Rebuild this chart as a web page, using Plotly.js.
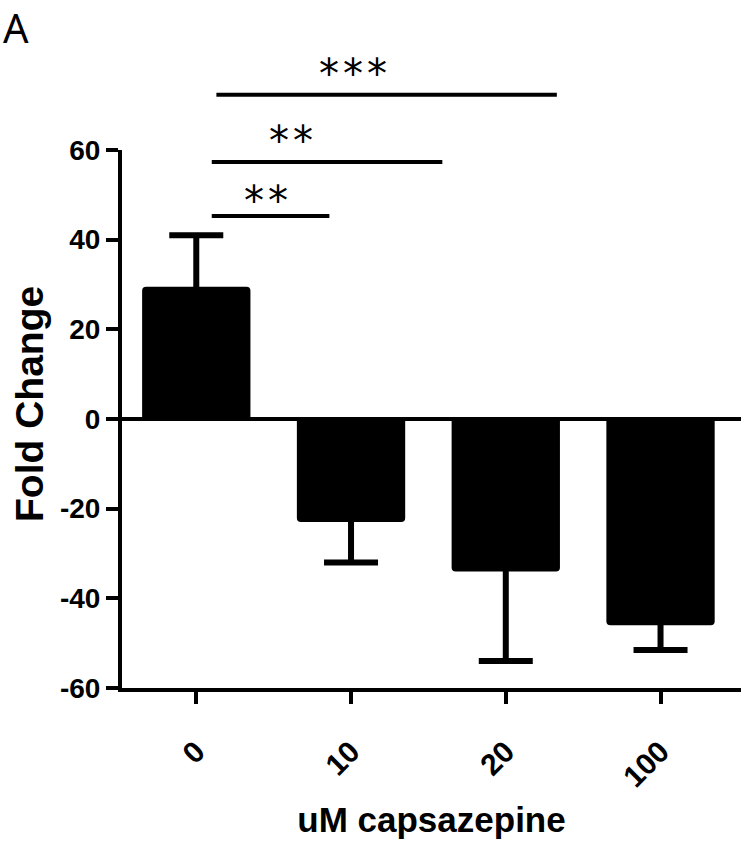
<!DOCTYPE html>
<html><head><meta charset="utf-8">
<script src="https://cdn.plot.ly/plotly-3.0.1.min.js"></script>
<style>html,body{margin:0;padding:0;background:#fff}</style>
</head><body><div id="chart" style="width:741px;height:848px"></div>
<script>
// ---- data ----
const categories = ['0', '10', '20', '100'];
const foldChange = [29.5, -23, -34, -46];
const semValues = [11.5, 9, 20, 5.5];
const yTickValues = [-60, -40, -20, 0, 20, 40, 60];
const yTickText = ['-60', '-40', '-20', '0', '20', '40', '60'];
const yRange = [-60, 60];
// significance brackets (category index units / y data units)
const sigFrom = [0.10, 0.10, 0.13];
const sigTo = [0.86, 1.59, 2.33];
const sigLevel = [45.3, 57.3, 72.3];
const sigLabels = ['*\u200A*', '*\u200A*', '*\u200A*\u200A*'];
const sigLabelX = [0.45, 0.61, 1.01];
const sigLabelY = [50.2, 63.6, 78.5];

const M = {l: 122, r: 0, t: 150, b: 160};
const W = 741, H = 848;
const plotW = W - M.l - M.r, plotH = H - M.t - M.b;
const toPaper = v => (v - yRange[0]) / (yRange[1] - yRange[0]);
const sans = 'Liberation Sans, Arial, sans-serif';

const trace = {
  type: 'bar',
  x: categories,
  y: foldChange,
  width: 0.7,
  marker: {color: '#000', cornerradius: 4, line: {width: 0}},
  error_y: {type: 'data', array: semValues, visible: true, color: '#000', thickness: 6, width: 27},
  hoverinfo: 'skip'
};

const shapes = sigFrom.map((f, i) => ({
  type: 'line', xref: 'x', yref: 'paper',
  x0: f, x1: sigTo[i], y0: toPaper(sigLevel[i]), y1: toPaper(sigLevel[i]),
  line: {color: '#000', width: 4}
}));

const annotations = sigLabels.map((t, i) => ({
  text: t, xref: 'x', yref: 'paper', x: sigLabelX[i], y: toPaper(sigLabelY[i]),
  xanchor: 'center', yanchor: 'middle', yshift: -7, showarrow: false,
  font: {family: 'DejaVu Sans, sans-serif', size: 40, color: '#000'}
}));
// panel letter
annotations.push({
  text: 'A', xref: 'paper', yref: 'paper', x: -M.l / plotW, y: 1 + M.t / plotH,
  xanchor: 'left', yanchor: 'top', xshift: 1, yshift: 2, showarrow: false,
  font: {family: 'Noto Sans, Liberation Sans, sans-serif', size: 40, color: '#000'}
});
// y-axis title (placed slightly above the plot centre, as in the figure)
annotations.push({
  text: 'Fold Change', textangle: -90, xref: 'paper', yref: 'paper',
  x: (29 - M.l) / plotW, y: (H - M.b - 404) / plotH,
  xanchor: 'center', yanchor: 'middle', showarrow: false,
  font: {family: sans, size: 39, weight: 700, color: '#000'}
});

const layout = {
  width: W, height: H,
  paper_bgcolor: '#fff', plot_bgcolor: '#fff',
  margin: M,
  showlegend: false,
  xaxis: {
    type: 'category', range: [-0.48, 3.52],
    showline: true, linecolor: '#000', linewidth: 4,
    ticks: 'outside', ticklen: 12, tickwidth: 4, tickcolor: '#000',
    tickangle: -45, ticklabelstandoff: 18,
    tickfont: {family: sans, size: 30, weight: 700, color: '#000'},
    showgrid: false, zeroline: false,
    title: {text: 'uM capsazepine', standoff: 16, font: {family: sans, size: 35, weight: 700, color: '#000'}}
  },
  yaxis: {
    range: yRange, tickmode: 'array', tickvals: yTickValues, ticktext: yTickText,
    showline: true, linecolor: '#000', linewidth: 4,
    ticks: 'outside', ticklen: 12, tickwidth: 4, tickcolor: '#000',
    tickfont: {family: sans, size: 28, weight: 700, color: '#000'},
    showgrid: false, zeroline: true, zerolinecolor: '#000', zerolinewidth: 4
  },
  shapes: shapes,
  annotations: annotations
};

Plotly.newPlot('chart', [trace], layout, {displayModeBar: false, staticPlot: true});
</script>
</body></html>
